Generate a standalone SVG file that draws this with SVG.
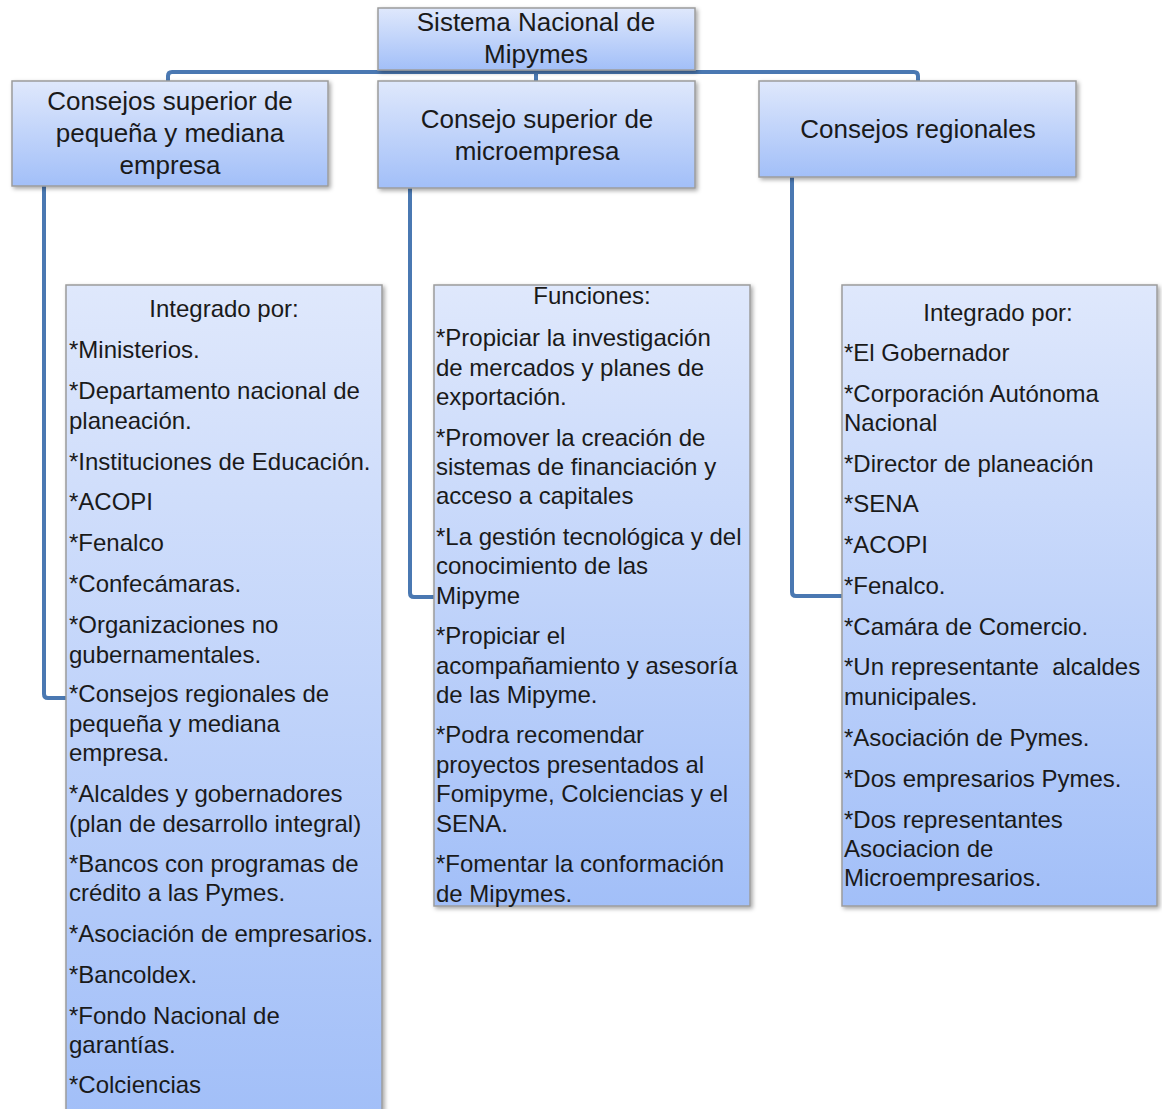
<svg xmlns="http://www.w3.org/2000/svg" width="1162" height="1109" viewBox="0 0 1162 1109">
<defs>
<linearGradient id="g" x1="0" y1="0" x2="0" y2="1">
<stop offset="0" stop-color="#dfe8fc"/>
<stop offset="1" stop-color="#a2bff8"/>
</linearGradient>
<filter id="sh" x="-10%" y="-10%" width="120%" height="120%">
<feDropShadow dx="2" dy="2" stdDeviation="2" flood-color="#000" flood-opacity="0.35"/>
</filter>
</defs>
<style>
.box{fill:url(#g);stroke:#9c9c9c;stroke-width:1.5;filter:url(#sh)}
.c{fill:none;stroke:#4a78b2;stroke-width:4;stroke-linejoin:round}
text{font-family:"Liberation Sans",Arial,sans-serif;font-size:24px;fill:#1a1a1a}
.m{text-anchor:middle}
.h{font-size:26px}
</style>
<rect width="1162" height="1109" fill="#fff"/>
<g id="connectors">
<path class="c" d="M168 81 V76 Q168 72 172 72 H914 Q918 72 918 76 V81"/>
<path class="c" d="M536 70 V81"/>
<path class="c" d="M44 186 V694 Q44 698 48 698 H66"/>
<path class="c" d="M410 188 V593 Q410 597 414 597 H434"/>
<path class="c" d="M792 177 V592 Q792 596 796 596 H842"/>
</g>
<g id="n-sistema">
<rect class="box" x="378" y="8" width="317" height="62"/>
<text class="m h" x="536" y="31">Sistema Nacional de</text>
<text class="m h" x="536" y="63">Mipymes</text>
</g>
<g id="n-pyme">
<rect class="box" x="12" y="81" width="316" height="105"/>
<text class="m h" x="170" y="110">Consejos superior de</text>
<text class="m h" x="170" y="142">pequeña y mediana</text>
<text class="m h" x="170" y="174">empresa</text>
</g>
<g id="n-micro">
<rect class="box" x="378" y="81" width="317" height="107"/>
<text class="m h" x="537" y="128">Consejo superior de</text>
<text class="m h" x="537" y="160">microempresa</text>
</g>
<g id="n-regionales">
<rect class="box" x="759" y="81" width="317" height="96"/>
<text class="m h" x="918" y="138">Consejos regionales</text>
</g>
<g id="n-integrado1">
<rect class="box" x="66" y="285" width="316" height="830"/>
<text class="m" x="224" y="317">Integrado por:</text>
<text x="69" y="358">*Ministerios.</text>
<text x="69" y="399">*Departamento nacional de</text>
<text x="69" y="429">planeación.</text>
<text x="69" y="470">*Instituciones de Educación.</text>
<text x="69" y="510">*ACOPI</text>
<text x="69" y="551">*Fenalco</text>
<text x="69" y="592">*Confecámaras.</text>
<text x="69" y="633">*Organizaciones no</text>
<text x="69" y="663">gubernamentales.</text>
<text x="69" y="702">*Consejos regionales de</text>
<text x="69" y="732">pequeña y mediana</text>
<text x="69" y="761">empresa.</text>
<text x="69" y="802">*Alcaldes y gobernadores</text>
<text x="69" y="832">(plan de desarrollo integral)</text>
<text x="69" y="872">*Bancos con programas de</text>
<text x="69" y="901">crédito a las Pymes.</text>
<text x="69" y="942">*Asociación de empresarios.</text>
<text x="69" y="983">*Bancoldex.</text>
<text x="69" y="1024">*Fondo Nacional de</text>
<text x="69" y="1053">garantías.</text>
<text x="69" y="1093">*Colciencias</text>
</g>
<g id="n-funciones">
<rect class="box" x="434" y="285" width="316" height="621"/>
<text class="m" x="592" y="304">Funciones:</text>
<text x="436" y="346">*Propiciar la investigación</text>
<text x="436" y="376">de mercados y planes de</text>
<text x="436" y="405">exportación.</text>
<text x="436" y="446">*Promover la creación de</text>
<text x="436" y="475">sistemas de financiación y</text>
<text x="436" y="504">acceso a capitales</text>
<text x="436" y="545">*La gestión tecnológica y del</text>
<text x="436" y="574">conocimiento de las</text>
<text x="436" y="604">Mipyme</text>
<text x="436" y="644">*Propiciar el</text>
<text x="436" y="674">acompañamiento y asesoría</text>
<text x="436" y="703">de las Mipyme.</text>
<text x="436" y="743">*Podra recomendar</text>
<text x="436" y="773">proyectos presentados al</text>
<text x="436" y="802">Fomipyme, Colciencias y el</text>
<text x="436" y="832">SENA.</text>
<text x="436" y="872">*Fomentar la conformación</text>
<text x="436" y="902">de Mipymes.</text>
</g>
<g id="n-integrado2">
<rect class="box" x="842" y="285" width="315" height="621"/>
<text class="m" x="998" y="321">Integrado por:</text>
<text x="844" y="361">*El Gobernador</text>
<text x="844" y="402">*Corporación Autónoma</text>
<text x="844" y="431">Nacional</text>
<text x="844" y="472">*Director de planeación</text>
<text x="844" y="512">*SENA</text>
<text x="844" y="553">*ACOPI</text>
<text x="844" y="594">*Fenalco.</text>
<text x="844" y="635">*Camára de Comercio.</text>
<text x="844" y="675" xml:space="preserve">*Un representante  alcaldes</text>
<text x="844" y="705">municipales.</text>
<text x="844" y="746">*Asociación de Pymes.</text>
<text x="844" y="787">*Dos empresarios Pymes.</text>
<text x="844" y="828">*Dos representantes</text>
<text x="844" y="857">Asociacion de</text>
<text x="844" y="886">Microempresarios.</text>
</g>
</svg>
